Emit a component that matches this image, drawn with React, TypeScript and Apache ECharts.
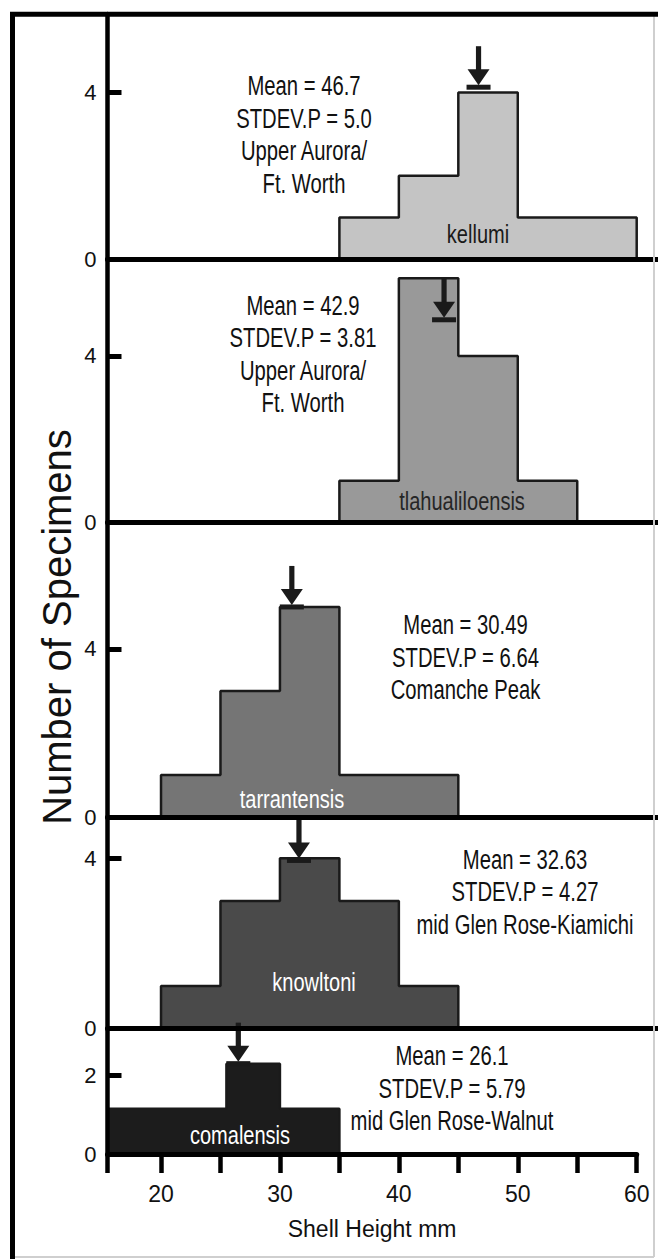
import React, { useEffect, useRef } from "react";
import * as echarts from "echarts";

// ---------- data ----------
const species = ["kellumi", "tlahualiloensis", "tarrantensis", "knowltoni", "comalensis"];

const kellumiEdges = [35, 40, 45, 50, 55, 60];
const kellumiCounts = [1, 2, 4, 1, 1];
const tlahualiloensisEdges = [35, 40, 45, 50, 55];
const tlahualiloensisCounts = [1, 5.87, 4, 1];
const tarrantensisEdges = [20, 25, 30, 35, 40, 45];
const tarrantensisCounts = [1, 3, 5, 1, 1];
const knowltoniEdges = [20, 25, 30, 35, 40, 45];
const knowltoniCounts = [1, 3, 4, 3, 1];
const comalensisEdges = [15.5, 25.5, 30, 35];
const comalensisCounts = [1.15, 2.3, 1.15];

const allEdges = [kellumiEdges, tlahualiloensisEdges, tarrantensisEdges, knowltoniEdges, comalensisEdges];
const allCounts = [kellumiCounts, tlahualiloensisCounts, tarrantensisCounts, knowltoniCounts, comalensisCounts];

// mean arrows (as drawn in the figure)
const meanArrowX = [46.7, 43.8, 31.0, 31.6, 26.5];
const meanArrowY = [4.13, 4.87, 5.0, 3.95, 2.3];

const statLines = [
  ["Mean = 46.7", "STDEV.P = 5.0", "Upper Aurora/", "Ft. Worth"],
  ["Mean = 42.9", "STDEV.P = 3.81", "Upper Aurora/", "Ft. Worth"],
  ["Mean = 30.49", "STDEV.P = 6.64", "Comanche Peak"],
  ["Mean = 32.63", "STDEV.P = 4.27", "mid Glen Rose-Kiamichi"],
  ["Mean = 26.1", "STDEV.P = 5.79", "mid Glen Rose-Walnut"],
];

const yTickValues = [[4], [4], [4], [4], [2]];
const yLabelValues = [[0, 4], [0, 4], [0, 4], [0, 4], [0, 2]];
const yMax = [5.89, 6.33, 7.01, 4.97, 3.19];
const xTickValues = [15.5, 20, 25, 30, 35, 40, 45, 50, 55, 60];
const xLabelValues = [20, 30, 40, 50, 60];
const X_MIN = 15.5;
const X_MAX = 60;
const xTitle = "Shell Height mm";
const yTitle = "Number of Specimens";

// ---------- layout / style ----------
const W = 658;
const H = 1259;
const GRID_LEFT = 107.5;
const GRID_RIGHT_LAST = 21.3;
const panelTops = [14, 259, 522.5, 817, 1028.7];
const panelBottoms = [259, 522.5, 817, 1028.7, 1154];
const fills = ["#c4c4c4", "#999999", "#757575", "#4a4a4a", "#1c1c1c"];
const speciesLabelColor = ["#1a1a1a", "#262626", "#ffffff", "#ffffff", "#ffffff"];
const statPos = [[304, 134.5], [303, 354], [465.5, 657], [525, 891.5], [452, 1088]];
const statLineHeight = 32.5;
const speciesLabelPos = [[478, 234], [462, 501], [292, 799], [314, 982], [240, 1135]];
const SANS = "'Liberation Sans', Arial, Helvetica, sans-serif";
const CONDENSE = 0.75;
const INK = "#111111";

function buildStep(edges: number[], counts: number[]) {
  const pts: number[][] = [[edges[0], 0]];
  for (let i = 0; i < counts.length; i++) pts.push([edges[i], counts[i]]);
  pts.push([edges[edges.length - 1], 0]);
  return pts;
}

export default function App() {
  const ref = useRef<HTMLDivElement>(null);

  useEffect(() => {
    if (!ref.current) return;
    const chart = echarts.init(ref.current, undefined, { renderer: "svg", width: W, height: H });

    const xMaxExt = X_MIN + ((W - GRID_LEFT) * (X_MAX - X_MIN)) / (W - GRID_LEFT - GRID_RIGHT_LAST);

    const grids: any[] = [];
    const xAxes: any[] = [];
    const yAxes: any[] = [];
    const series: any[] = [];
    const graphics: any[] = [];

    for (let i = 0; i < 5; i++) {
      const last = i === 4;
      grids.push({
        left: GRID_LEFT,
        right: last ? GRID_RIGHT_LAST : 0,
        top: panelTops[i],
        height: panelBottoms[i] - panelTops[i],
        containLabel: false,
        outerBoundsMode: "none",
      });
      xAxes.push({
        type: "value",
        gridIndex: i,
        min: X_MIN,
        max: last ? X_MAX : xMaxExt,
        z: 10,
        axisLine: { show: true, onZero: false, lineStyle: { color: "#000", width: 5 } },
        axisTick: last
          ? { show: true, customValues: xTickValues, length: 19, inside: false, lineStyle: { color: "#000", width: 4.5 } }
          : { show: false },
        axisLabel: last
          ? { show: true, customValues: xLabelValues, fontSize: 23, fontFamily: SANS, color: INK, margin: 28 }
          : { show: false },
        splitLine: { show: false },
        name: last ? xTitle : "",
        nameLocation: "middle",
        nameGap: 63,
        nameTextStyle: { fontSize: 23, fontFamily: SANS, color: INK },
      });
      yAxes.push({
        type: "value",
        gridIndex: i,
        min: 0,
        max: yMax[i],
        z: 10,
        axisLine: { show: true, onZero: false, lineStyle: { color: "#000", width: 4.5 } },
        axisTick: { show: true, inside: true, length: 14, customValues: yTickValues[i], lineStyle: { color: "#000", width: 5 } },
        axisLabel: { show: true, customValues: yLabelValues[i], fontSize: 22, fontFamily: SANS, color: INK, margin: 11 },
        splitLine: { show: false },
      });
      series.push({
        type: "line",
        name: species[i],
        xAxisIndex: i,
        yAxisIndex: i,
        step: "end",
        symbol: "none",
        silent: true,
        z: 2,
        data: buildStep(allEdges[i], allCounts[i]),
        lineStyle: { color: "#1a1a1a", width: 2.5 },
        areaStyle: { color: fills[i], opacity: 1 },
      });
      series.push({
        type: "custom",
        xAxisIndex: i,
        yAxisIndex: i,
        clip: false,
        silent: true,
        z: 5,
        data: [[meanArrowX[i], meanArrowY[i]]],
        renderItem: (_params: any, api: any) => {
          const p = api.coord([api.value(0), api.value(1)]);
          const x = p[0];
          const c = p[1];
          const ink = { fill: "#1a1a1a" };
          return {
            type: "group",
            children: [
              { type: "rect", shape: { x: x - 2.6, y: c - 41, width: 5.2, height: 25 }, style: ink },
              { type: "polygon", shape: { points: [[x - 11, c - 18], [x + 11, c - 18], [x, c - 2]] }, style: ink },
              { type: "rect", shape: { x: x - 12, y: c - 2.5, width: 24, height: 5 }, style: ink },
            ],
          };
        },
      });

      graphics.push({
        type: "text",
        x: statPos[i][0],
        y: statPos[i][1],
        scaleX: CONDENSE,
        z: 30,
        style: {
          text: statLines[i].join("\n"),
          fontSize: 27,
          fontFamily: SANS,
          fill: INK,
          align: "center",
          verticalAlign: "middle",
          lineHeight: statLineHeight,
        },
      });
      graphics.push({
        type: "text",
        x: speciesLabelPos[i][0],
        y: speciesLabelPos[i][1],
        scaleX: 0.77,
        z: 30,
        style: {
          text: species[i],
          fontSize: 26,
          fontFamily: SANS,
          fill: speciesLabelColor[i],
          align: "center",
          verticalAlign: "middle",
        },
      });
    }

    graphics.push(
      { type: "text", x: 57.4, y: 627, rotation: Math.PI / 2, z: 30,
        style: { text: yTitle, fontSize: 40, fontFamily: SANS, fill: INK, align: "center", verticalAlign: "middle" } },
      { type: "line", z: 40, shape: { x1: 12.5, y1: 12, x2: 12.5, y2: H }, style: { stroke: "#000", lineWidth: 5 } },
      { type: "line", z: 40, shape: { x1: 10, y1: 14.3, x2: W, y2: 14.3 }, style: { stroke: "#000", lineWidth: 5 } },
      { type: "line", z: 39, shape: { x1: 654, y1: 16, x2: 654, y2: 1257 }, style: { stroke: "#cfcfcf", lineWidth: 2 } },
      { type: "line", z: 39, shape: { x1: 14, y1: 1257, x2: 654, y2: 1257 }, style: { stroke: "#cfcfcf", lineWidth: 2 } }
    );

    chart.setOption({
      animation: false,
      backgroundColor: "#ffffff",
      grid: grids,
      xAxis: xAxes,
      yAxis: yAxes,
      series,
      graphic: graphics,
    });

    return () => chart.dispose();
  }, []);

  return (
    <div
      ref={ref}
      style={{ position: "fixed", left: 0, top: 0, width: W, height: H, background: "#fff" }}
    />
  );
}
